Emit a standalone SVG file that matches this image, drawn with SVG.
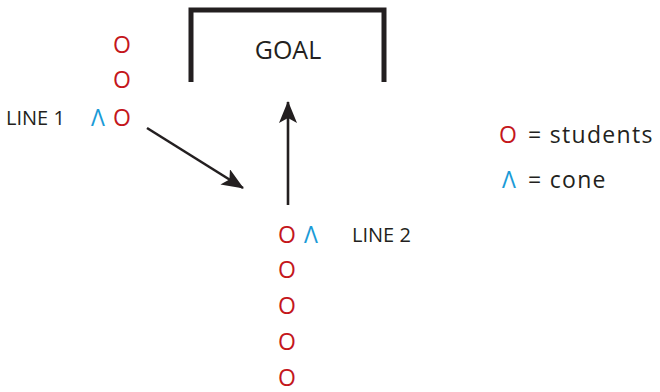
<svg xmlns="http://www.w3.org/2000/svg" width="660" height="392" viewBox="0 0 660 392">
<defs>
<style>
.s{fill:#c4161c;font-family:"Open Sans",sans-serif;font-size:23px;text-anchor:middle}
.c{fill:#1b9bd7;font-family:"Open Sans",sans-serif;font-size:23px;text-anchor:middle}
.t{fill:#231f20;font-family:"Open Sans",sans-serif;font-size:20px}
.g{fill:#231f20;font-family:"Open Sans",sans-serif;font-size:25px;text-anchor:middle}
.l{fill:#231f20;font-family:"Open Sans",sans-serif;font-size:23px;letter-spacing:1.3px}
.a{stroke:#231f20;stroke-width:2.6;fill:none;marker-end:url(#ah)}
</style>
<marker id="ah" viewBox="0 0 22 18" refX="21" refY="9" markerWidth="22" markerHeight="18" markerUnits="userSpaceOnUse" orient="auto">
<path d="M0,0 L22,9 L0,18 L5,9 z" fill="#231f20"/>
</marker>
</defs>
<g id="goal">
<path d="M191,82 V10 H384 V82" fill="none" stroke="#231f20" stroke-width="5"/>
<text class="g" x="288" y="59">GOAL</text>
</g>
<g id="line1">
<text class="t" x="6" y="125">LINE 1</text>
<text class="c" x="98" y="126">Λ</text>
<text class="s" x="122" y="53">O</text>
<text class="s" x="122" y="88">O</text>
<text class="s" x="122" y="126">O</text>
</g>
<g id="line2">
<text class="s" x="287" y="243">O</text>
<text class="c" x="311" y="243">Λ</text>
<text class="t" x="352" y="242">LINE 2</text>
<text class="s" x="287" y="278">O</text>
<text class="s" x="287" y="314">O</text>
<text class="s" x="287" y="350">O</text>
<text class="s" x="287" y="386">O</text>
</g>
<g id="legend">
<text class="s" x="508" y="143">O</text>
<text class="l" x="528" y="143">= students</text>
<text class="c" x="509" y="188">Λ</text>
<text class="l" x="528" y="188">= cone</text>
</g>
<g id="connectors">
<line class="a" x1="147" y1="128" x2="243" y2="188"/>
<line class="a" x1="288" y1="205" x2="288" y2="102"/>
</g>
</svg>
